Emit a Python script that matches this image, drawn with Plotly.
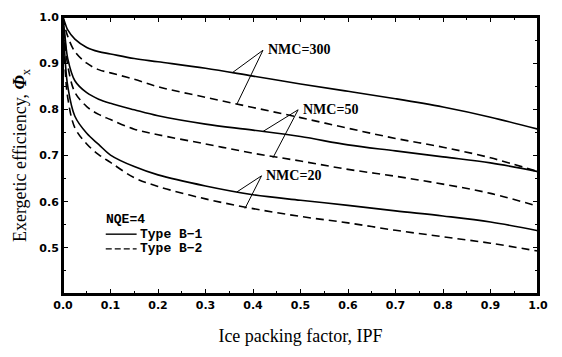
import plotly.graph_objects as go

ipf = [0.0, 0.005, 0.01, 0.025, 0.05, 0.075, 0.1, 0.15, 0.2, 0.3, 0.4, 0.5, 0.6, 0.7, 0.8, 0.9, 1.0]

b1_nmc300 = [1.0, 0.985, 0.972, 0.952, 0.934, 0.925, 0.920, 0.910, 0.903, 0.889, 0.872, 0.855, 0.839, 0.823, 0.805, 0.783, 0.757]
b2_nmc300 = [1.0, 0.975, 0.958, 0.925, 0.900, 0.886, 0.879, 0.865, 0.849, 0.826, 0.804, 0.782, 0.759, 0.737, 0.718, 0.695, 0.665]
b1_nmc50 = [1.0, 0.950, 0.910, 0.862, 0.836, 0.822, 0.813, 0.799, 0.786, 0.768, 0.755, 0.741, 0.723, 0.710, 0.697, 0.684, 0.665]
b2_nmc50 = [1.0, 0.940, 0.895, 0.837, 0.806, 0.789, 0.778, 0.757, 0.745, 0.725, 0.705, 0.688, 0.670, 0.655, 0.638, 0.618, 0.590]
b1_nmc20 = [1.0, 0.900, 0.850, 0.785, 0.748, 0.724, 0.701, 0.676, 0.658, 0.634, 0.615, 0.603, 0.592, 0.580, 0.569, 0.556, 0.537]
b2_nmc20 = [1.0, 0.880, 0.825, 0.760, 0.725, 0.702, 0.685, 0.652, 0.633, 0.606, 0.585, 0.568, 0.554, 0.538, 0.524, 0.510, 0.493]

labels = ["NMC=300", "NMC=50", "NMC=20"]
label_pos = [(0.427, 0.930), (0.501, 0.799), (0.424, 0.657)]
leader_tips = [(0.421, 0.928), (0.495, 0.799), (0.418, 0.656)]
leader_ends = [[(0.356, 0.879), (0.366, 0.811)],
               [(0.421, 0.752), (0.442, 0.695)],
               [(0.366, 0.621), (0.383, 0.585)]]

legend_title = "NQE=4"
legend_names = ["Type B\u22121", "Type B\u22122"]

x_ticks = [0.0, 0.1, 0.2, 0.3, 0.4, 0.5, 0.6, 0.7, 0.8, 0.9, 1.0]
y_ticks = [0.5, 0.6, 0.7, 0.8, 0.9, 1.0]

fig = go.Figure()
solid = dict(color="black", width=1.6)
dashed = dict(color="black", width=1.6, dash="8px,5px")

for ys in [b1_nmc300, b1_nmc50, b1_nmc20]:
    fig.add_trace(go.Scatter(x=ipf, y=ys, mode="lines", line=solid, line_shape="spline",
                             name=legend_names[0], showlegend=False))
for ys in [b2_nmc300, b2_nmc50, b2_nmc20]:
    fig.add_trace(go.Scatter(x=ipf, y=ys, mode="lines", line=dashed, line_shape="spline",
                             name=legend_names[1], showlegend=False))

for lab, (lx, ly), (tx, ty), ends in zip(labels, label_pos, leader_tips, leader_ends):
    fig.add_annotation(x=lx, y=ly, text="<b>" + lab + "</b>", showarrow=False,
                       xanchor="left", yanchor="middle",
                       font=dict(family="Liberation Serif", size=14, color="black"))
    for ex, ey in ends:
        fig.add_shape(type="line", x0=tx, y0=ty, x1=ex, y1=ey, xref="x", yref="y",
                      line=dict(color="black", width=1))

leg_font = dict(family="Liberation Mono", size=13, color="black", weight="bold")
fig.add_annotation(xref="paper", yref="paper", x=0.086, y=0.269, text="<b>" + legend_title + "</b>",
                   showarrow=False, xanchor="left", yanchor="middle", font=leg_font)
for name, yy, dsh in [(legend_names[0], 0.216, "solid"), (legend_names[1], 0.163, "6px,3px")]:
    fig.add_shape(type="line", xref="paper", yref="paper", x0=0.090, x1=0.155, y0=yy, y1=yy,
                  line=dict(color="black", width=1.4, dash=dsh))
    fig.add_annotation(xref="paper", yref="paper", x=0.158, y=yy, text="<b>" + name + "</b>",
                       showarrow=False, xanchor="left", yanchor="middle", font=leg_font)

# frame of the plotting area
fig.add_shape(type="rect", xref="paper", yref="paper", x0=0, y0=0, x1=1, y1=1,
              line=dict(color="black", width=2), fillcolor="rgba(0,0,0,0)", layer="above")

axis_common = dict(showline=True, linecolor="black", linewidth=2, mirror="allticks",
                   ticks="inside", ticklen=5, tickwidth=1.2, tickcolor="black",
                   showgrid=False, zeroline=False,
                   tickfont=dict(family="DejaVu Sans", size=11, color="black", weight="bold"))

xminor = dict(dtick=0.05, tick0=0, ticks="inside", ticklen=3, tickcolor="black", showgrid=False)
yminor = dict(dtick=0.05, tick0=0.4, ticks="inside", ticklen=3, tickcolor="black", showgrid=False)

fig.update_layout(
    xaxis=dict(range=[0, 1.0], tickvals=x_ticks, ticktext=[f"{v:.1f}" for v in x_ticks], minor=xminor,
               title=dict(text="Ice packing factor, IPF", standoff=18,
                          font=dict(family="Liberation Serif", size=18, color="black")),
               **axis_common),
    yaxis=dict(range=[0.4, 1.0], tickvals=y_ticks, ticktext=[f"{v:.1f}" for v in y_ticks], minor=yminor,
               title=dict(text="Exergetic efficiency, <b><i>Φ</i></b><sub>x</sub>", standoff=8,
                          font=dict(family="Liberation Serif", size=18, color="black")),
               **axis_common),
    width=562, height=357,
    margin=dict(l=63, r=24, t=11, b=63),
    paper_bgcolor="white", plot_bgcolor="white",
    showlegend=False,
)

fig.write_html("out.html")
